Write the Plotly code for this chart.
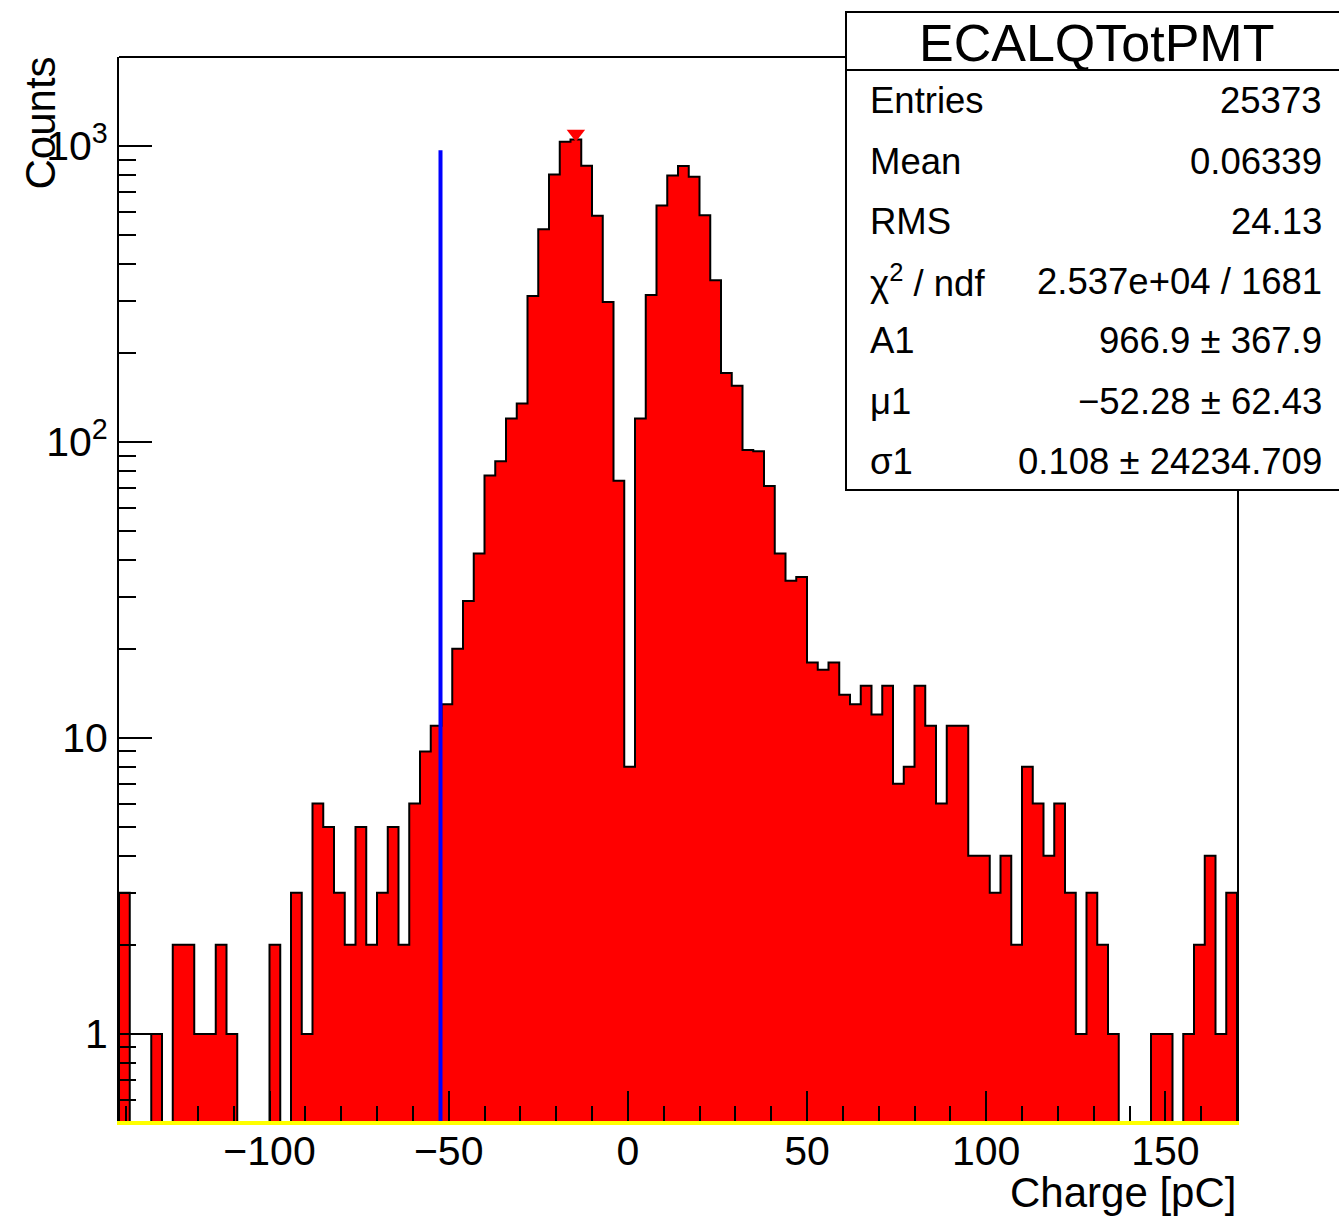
import numpy as np
import plotly.graph_objects as go

# ---------------- data ----------------
x_min, x_max, n_bins = -142.0, 170.0, 104
counts = [3, 0, 0, 1, 0, 2, 2, 1, 1, 2, 1, 0, 0, 0, 2, 0, 3, 1, 6, 5,
          3, 2, 5, 2, 3, 5, 2, 6, 9, 11, 13, 20, 29, 42, 77, 86, 120, 135, 311, 523,
          801, 1034, 1052, 857, 581, 297, 74, 8, 120, 314, 629, 795, 856, 787, 583, 352,
          171, 155, 94, 93, 71, 42, 34, 35, 18, 17, 18, 14, 13, 15, 12, 15, 7, 8, 15,
          11, 6, 11, 11, 4, 4, 3, 4, 2, 8, 6, 4, 6, 3, 1, 3, 2, 1, 0, 0, 0, 1, 1, 0,
          1, 2, 4, 1, 3]
fit_A1, fit_mu1 = 966.9, -52.28
stats_title = "ECALQTotPMT"
stats_labels = ["Entries", "Mean", "RMS", "χ<sup>2</sup> / ndf", "A1", "μ1", "σ1"]
stats_values = ["25373", "0.06339", "24.13", "2.537e+04 / 1681",
                "966.9 ± 367.9", "−52.28 ± 62.43", "0.108 ± 24234.709"]
y_major = [1, 10, 100, 1000]
y_major_text = ["1", "10", "10<sup>2</sup>", "10<sup>3</sup>"]
x_major = [-100, -50, 0, 50, 100, 150]

# ---------------- geometry ----------------
W, H = 1339, 1217
L, R, T, B = 119, 1237, 57, 1121
FONT = "Liberation Sans, Arial, Helvetica, sans-serif"

def px(xp):
    return (xp - L) / (R - L)

def py(yp):
    return (B - yp) / (B - T)

edges = np.linspace(x_min, x_max, n_bins + 1)
floor = 0.05
yv = [c if c > 0 else floor for c in counts]
xs, ys = [edges[0]], [floor]
for i in range(n_bins):
    xs += [edges[i], edges[i + 1]]
    ys += [yv[i], yv[i]]
xs.append(edges[-1]); ys.append(floor)

fig = go.Figure()
fig.add_trace(go.Scatter(x=xs, y=ys, mode="lines", fill="toself",
                         fillcolor="rgb(255,0,0)",
                         line=dict(color="black", width=2),
                         hoverinfo="skip", showlegend=False))
# fit line (very narrow gaussian)
fig.add_trace(go.Scatter(x=[fit_mu1, fit_mu1], y=[floor, fit_A1], mode="lines",
                         line=dict(color="rgb(0,0,255)", width=4),
                         showlegend=False))
# peak marker
imax = int(np.argmax(counts))
fig.add_trace(go.Scatter(x=[(edges[imax] + edges[imax + 1]) / 2],
                         y=[counts[imax] * 1.045], mode="markers",
                         marker=dict(symbol="triangle-down", size=16,
                                     color="rgb(255,0,0)", line=dict(width=0)),
                         cliponaxis=False, showlegend=False))

minor_y = []
for d in [0.1, 1, 10, 100, 1000]:
    for m in range(2, 10):
        v = m * d
        if 0.5 < v < 1995:
            minor_y.append(v)

fig.update_layout(
    width=W, height=H,
    margin=dict(l=L, r=W - R, t=T, b=H - B),
    paper_bgcolor="white", plot_bgcolor="white",
    font=dict(family=FONT, size=41, color="black"),
    xaxis=dict(range=[x_min, x_max], showgrid=False, zeroline=False,
               showline=True, linecolor="rgb(255,255,0)", linewidth=4,
               ticks="inside", ticklen=30, tickwidth=2, tickcolor="black",
               tickmode="array", tickvals=x_major,
               tickfont=dict(family=FONT, size=41), ticklabelstandoff=-9,
               minor=dict(dtick=10, tick0=0, ticks="inside", ticklen=15,
                          tickwidth=2, tickcolor="black", showgrid=False)),
    yaxis=dict(type="log", range=[np.log10(0.508), np.log10(1998)],
               showgrid=False, zeroline=False,
               showline=True, linecolor="black", linewidth=2, mirror=True,
               ticks="inside", ticklen=33, tickwidth=2, tickcolor="black",
               tickmode="array", tickvals=y_major, ticktext=y_major_text,
               tickfont=dict(family=FONT, size=41), ticklabelstandoff=1,
               minor=dict(tickmode="array", tickvals=minor_y, ticks="inside",
                          ticklen=17, tickwidth=2, tickcolor="black",
                          showgrid=False)),
)

shapes = []
# top frame line
shapes.append(dict(type="line", xref="paper", yref="paper", x0=0, x1=1, y0=1, y1=1,
                   line=dict(color="black", width=2), layer="above"))
# stats box
shapes.append(dict(type="rect", xref="paper", yref="paper",
                   x0=px(846), x1=px(1360), y0=py(490), y1=py(12),
                   fillcolor="white", line=dict(color="black", width=2), layer="above"))
shapes.append(dict(type="line", xref="paper", yref="paper",
                   x0=px(846), x1=px(1360), y0=py(70), y1=py(70),
                   line=dict(color="black", width=2), layer="above"))
fig.update_layout(shapes=shapes)

ann = []
ann.append(dict(text=stats_title, xref="paper", yref="paper", x=px(1096), y=py(43),
                xanchor="center", yanchor="middle", showarrow=False,
                font=dict(family=FONT, size=52)))
for i, (lab, val) in enumerate(zip(stats_labels, stats_values)):
    yc = 101 + 60 * i
    ann.append(dict(text=lab, xref="paper", yref="paper", x=px(868), y=py(yc),
                    xanchor="left", yanchor="middle", showarrow=False,
                    font=dict(family=FONT, size=36.5)))
    ann.append(dict(text=val, xref="paper", yref="paper", x=px(1324), y=py(yc),
                    xanchor="right", yanchor="middle", showarrow=False,
                    font=dict(family=FONT, size=36.5)))
ann.append(dict(text="Counts", xref="paper", yref="paper", x=px(40), y=py(55),
                xanchor="center", yanchor="top", textangle=-90, showarrow=False,
                font=dict(family=FONT, size=42)))
ann.append(dict(text="Charge [pC]", xref="paper", yref="paper", x=px(1238), y=py(1192),
                xanchor="right", yanchor="middle", showarrow=False,
                font=dict(family=FONT, size=42)))
fig.update_layout(annotations=ann)

fig.write_html("out.html")
